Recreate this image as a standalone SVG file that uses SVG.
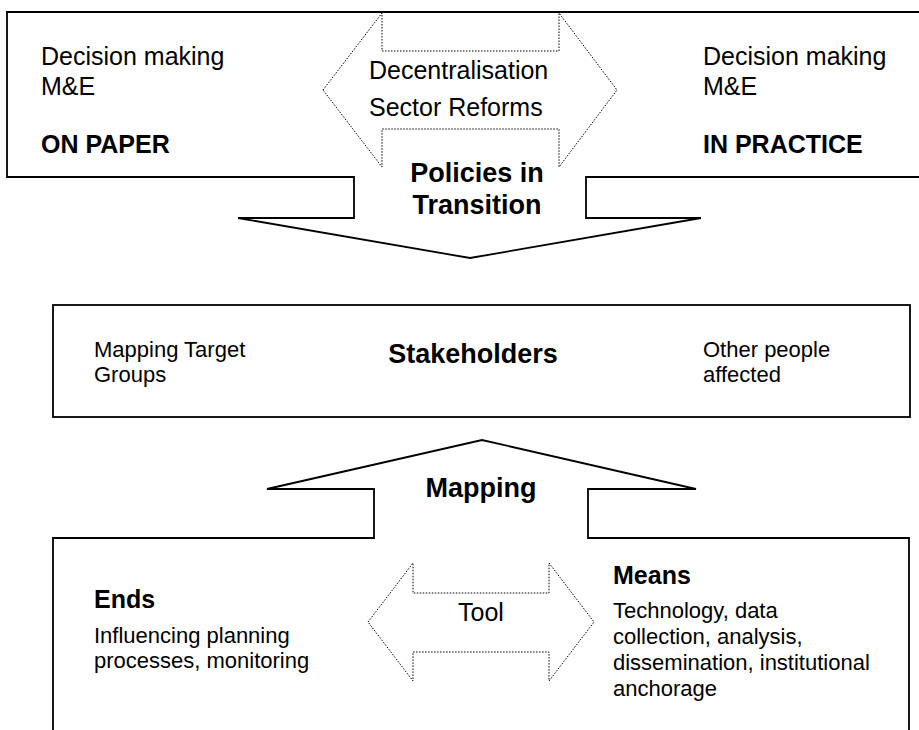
<svg xmlns="http://www.w3.org/2000/svg" width="919" height="730" viewBox="0 0 919 730">
<style>
.solid{fill:none;stroke:#000;stroke-width:1.8;stroke-linejoin:miter}
.dot{fill:none;stroke:#000;stroke-width:1;stroke-dasharray:1.5 1.5}
text{font-family:"Liberation Sans",Arial,sans-serif;fill:#000}
.r25{font-size:25px}
.b25{font-size:25px;font-weight:bold}
.b27{font-size:27px;font-weight:bold}
.r22{font-size:22px}
.c{text-anchor:middle}
</style>
<rect width="919" height="730" fill="#fff"/>
<g id="connectors">
<polygon id="policies-arrow" class="solid" points="7,12 925,12 925,177 586,177 586,218 701,218 470,258 238,218 354,218 354,177 7,177"/>
<polygon id="reforms-double-arrow" class="dot" points="323,90 382,13 382,51 559,51 559,13 617,90 559,167 559,129 382,129 382,167"/>
<polygon id="mapping-arrow" class="solid" points="53,735 53,538 374,538 374,489 267,489 482,440 696,489 588,489 588,538 909,538 909,735"/>
<polygon id="tool-double-arrow" class="dot" points="368,622 413,563 413,593 549,593 549,563 594,622 549,681 549,652 413,652 413,681"/>
</g>
<g id="on-paper">
<text class="r25" x="41" y="65">Decision making</text>
<text class="r25" x="41" y="95">M&amp;E</text>
<text class="b25" x="41" y="153">ON PAPER</text>
</g>
<g id="reforms">
<text class="r25" x="369" y="79">Decentralisation</text>
<text class="r25" x="369" y="116">Sector Reforms</text>
</g>
<g id="in-practice">
<text class="r25" x="703" y="65">Decision making</text>
<text class="r25" x="703" y="95">M&amp;E</text>
<text class="b25" x="703" y="153">IN PRACTICE</text>
</g>
<g id="policies">
<text class="b27 c" x="477" y="182">Policies in</text>
<text class="b27 c" x="477" y="214">Transition</text>
</g>
<g id="stakeholders">
<rect class="solid" x="53" y="305" width="857" height="112"/>
<text class="r22" x="94" y="357">Mapping Target</text>
<text class="r22" x="94" y="382">Groups</text>
<text class="b27 c" x="473" y="363">Stakeholders</text>
<text class="r22" x="703" y="357">Other people</text>
<text class="r22" x="703" y="382">affected</text>
</g>
<g id="mapping">
<text class="b27 c" x="481" y="497">Mapping</text>
</g>
<g id="ends">
<text class="b25" x="94" y="608">Ends</text>
<text class="r22" x="94" y="643">Influencing planning</text>
<text class="r22" x="94" y="668">processes, monitoring</text>
</g>
<g id="tool">
<text class="r25" x="458" y="621">Tool</text>
</g>
<g id="means">
<text class="b25" x="613" y="584">Means</text>
<text class="r22" x="613" y="618">Technology, data</text>
<text class="r22" x="613" y="644">collection, analysis,</text>
<text class="r22" x="613" y="670">dissemination, institutional</text>
<text class="r22" x="613" y="696">anchorage</text>
</g>
</svg>
